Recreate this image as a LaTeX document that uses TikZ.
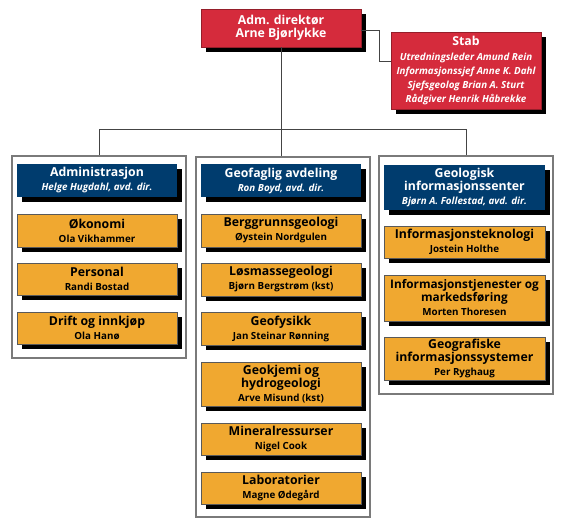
\documentclass[tikz,border=0pt]{standalone}
\usepackage{fontspec}
\setmainfont{Open Sans}
\definecolor{ngured}{HTML}{D52B3C}
\definecolor{ngublue}{HTML}{003C6E}
\definecolor{nguorange}{HTML}{F0A830}
\definecolor{frame}{HTML}{7A7A7A}
\definecolor{wire}{HTML}{444444}
\newcommand\titletxt{\bfseries\fontsize{12.3}{13}\selectfont}
\newcommand\titlesmall{\bfseries\fontsize{11.8}{13}\selectfont}
\newcommand\subtxt{\bfseries\fontsize{9.8}{11}\selectfont}
\newcommand\subit{\bfseries\itshape\fontsize{9.8}{11}\selectfont}
\newcommand\orgbox[7]{%
  \fill[black] ({#2+5},{#3+5}) rectangle ({#4+5},{#5+5});
  \node[#6, minimum width={(#4-#2)*1pt}, minimum height={(#5-#3)*1pt}] (#1) at ({(#2+#4)/2},{(#3+#5)/2}) {#7};
}
\tikzset{
  boxbase/.style={rectangle, inner sep=0pt, align=center, font=\titletxt},
  redbox/.style={boxbase, fill=ngured, draw=ngured!70!black, line width=0.4pt, text=white},
  bluebox/.style={boxbase, fill=ngublue, text=white},
  orangebox/.style={boxbase, fill=nguorange, draw=black!65, line width=0.5pt, text=black},
  panel/.style={rectangle, draw=frame, line width=1.2pt, fill=white, inner sep=0pt},
  wireline/.style={draw=wire, line width=1pt}
}
\begin{document}
\begin{tikzpicture}[x=1pt,y=-1pt]
\useasboundingbox (0,0) rectangle (567,532);
\fill[white] (0,0) rectangle (567,532);
% panels
\node[panel, minimum width=174pt, minimum height=202pt] (leftp) at (99,257) {};
\node[panel, minimum width=174pt, minimum height=360pt] (midp) at (283,337) {};
\node[panel, minimum width=174pt, minimum height=238pt] (rightp) at (466,275) {};
% top boxes
\orgbox{adm}{201}{9}{361}{47}{redbox}{Adm. direktør\\Arne Bjørlykke}
\orgbox{stab}{391}{32}{541}{109}{redbox}{Stab\\[2pt]{\subit Utredningsleder Amund Rein}\\[1pt]{\subit Informasjonssjef Anne K. Dahl}\\[1pt]{\subit Sjefsgeolog Brian A. Sturt}\\[1pt]{\subit Rådgiver Henrik Håbrekke}}
% connectors
\coordinate (bus) at (0,129);
\draw[wireline] ([yshift=-3pt]adm.east) -- ++(18,0) |- ([yshift=8.5pt]stab.west);
\draw[wireline] (adm.south) -- (adm.south |- midp.north);
\draw[wireline] (leftp.north) -- (leftp.north |- bus) -| (rightp.north);
% left column
\orgbox{adms}{17}{164}{177}{197}{bluebox}{Administrasjon\\[1pt]{\subit Helge Hugdahl, avd. dir.}}
\orgbox{oko}{17}{214}{177}{247}{orangebox}{Økonomi\\[1pt]{\subtxt Ola Vikhammer}}
\orgbox{pers}{17}{263}{177}{295}{orangebox}{Personal\\[1pt]{\subtxt Randi Bostad}}
\orgbox{drift}{17}{312}{177}{344}{orangebox}{Drift og innkjøp\\[1pt]{\subtxt Ola Hanø}}
% middle column
\orgbox{geof}{201}{164}{361}{197}{bluebox}{Geofaglig avdeling\\[1pt]{\subit Ron Boyd, avd. dir.}}
\orgbox{berg}{201}{214}{361}{247}{orangebox}{Berggrunnsgeologi\\[1pt]{\subtxt Øystein Nordgulen}}
\orgbox{los}{201}{263}{361}{296}{orangebox}{Løsmassegeologi\\[1pt]{\subtxt Bjørn Bergstrøm (kst)}}
\orgbox{fys}{201}{312}{361}{345}{orangebox}{Geofysikk\\[1pt]{\subtxt Jan Steinar Rønning}}
\orgbox{kjemi}{201}{362}{361}{406}{orangebox}{Geokjemi og\\hydrogeologi\\[1pt]{\subtxt Arve Misund (kst)}}
\orgbox{mineral}{201}{423}{361}{455}{orangebox}{Mineralressurser\\[1pt]{\subtxt Nigel Cook}}
\orgbox{lab}{201}{472}{361}{504}{orangebox}{Laboratorier\\[1pt]{\subtxt Magne Ødegård}}
% right column
\orgbox{geol}{384}{165}{545}{210}{bluebox}{Geologisk\\informasjonssenter\\[1pt]{\subit Bjørn A. Follestad, avd. dir.}}
\orgbox{itek}{384}{226}{545}{258}{orangebox}{Informasjonsteknologi\\[1pt]{\subtxt Jostein Holthe}}
\orgbox{itjen}{384}{275}{545}{321}{orangebox, font=\titlesmall}{Informasjonstjenester og\\markedsføring\\[1pt]{\subtxt Morten Thoresen}}
\orgbox{gis}{384}{337}{545}{380}{orangebox}{Geografiske\\informasjonssystemer\\[1pt]{\subtxt Per Ryghaug}}
\end{tikzpicture}
\end{document}
